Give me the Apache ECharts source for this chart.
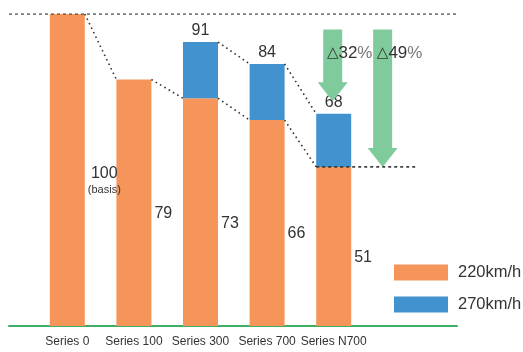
<!DOCTYPE html>
<html>
<head>
<meta charset="utf-8">
<script src="https://cdn.jsdelivr.net/npm/echarts@6/dist/echarts.min.js"></script>
<style>
  html, body { margin: 0; padding: 0; background: #fff; }
  #chart { width: 523px; height: 352px; }
</style>
</head>
<body>
<div id="chart"></div>
<script>
var categories = ['Series 0', 'Series 100', 'Series 300', 'Series 700', 'Series N700'];
var speed220 = [100, 79, 73, 66, 51];
var speed270 = [null, null, 91, 84, 68];
var legendNames = ['220km/h', '270km/h'];
// arrows: [category index, top value, tip value, reduction %]
var arrowCats = [4, 4];
var arrowTop = [95, 95];
var arrowTip = [72, 51];
var arrowPct = [32, 49];

var orange = '#F6955A';
var blue = '#4192CF';
var arrowGreen = '#80CB9B';
var axisGreen = '#3FAF63';
var font = "'Liberation Sans', Arial, Helvetica, sans-serif";
var barWidth = 35;
var arrowShift = [0, 0.75]; // fraction of a band, right of category centre

var chart = echarts.init(document.getElementById('chart'));

// part above the 220km/h bar
var extra270 = speed270.map(function (v, i) { return v == null ? '-' : v - speed220[i]; });

// dotted connectors between neighbouring bar tops
var connectors = [];
for (var i = 0; i < speed220.length - 1; i++) {
    connectors.push([i, speed220[i], speed220[i + 1]]);
}
for (var j = 0; j < speed270.length - 1; j++) {
    if (speed270[j] != null && speed270[j + 1] != null) {
        connectors.push([j, speed270[j], speed270[j + 1]]);
    }
}
var arrowData = arrowCats.map(function (c, k) {
    return [c, arrowTop[k], arrowTip[k], arrowPct[k], arrowShift[k]];
});
var last = speed220.length - 1;

var option = {
    backgroundColor: '#fff',
    animation: false,
    legend: {
        data: legendNames,
        orient: 'vertical',
        left: 394,
        top: 264,
        padding: 0,
        itemWidth: 54,
        itemHeight: 16,
        itemGap: 15,
        icon: 'rect',
        textStyle: { fontSize: 16.5, color: '#333', fontFamily: font, padding: [0, 0, 0, 5] }
    },
    grid: [
        { left: 34, right: 156, top: 14, bottom: 26 },
        { left: 9, right: 66, top: 14, bottom: 26 }
    ],
    xAxis: [
        {
            type: 'category',
            gridIndex: 0,
            data: categories,
            axisLine: { show: false },
            axisTick: { show: false },
            axisLabel: { interval: 0, margin: 10, fontSize: 12, color: '#333', fontFamily: font }
        },
        {
            type: 'value',
            gridIndex: 1,
            min: 0,
            max: 1,
            axisLine: { show: true, onZero: false, lineStyle: { color: axisGreen, width: 2 } },
            axisTick: { show: false },
            axisLabel: { show: false },
            splitLine: { show: false }
        }
    ],
    yAxis: [
        { type: 'value', gridIndex: 0, min: 0, max: 100, show: false },
        { type: 'value', gridIndex: 1, min: 0, max: 100, show: false }
    ],
    series: [
        {
            name: legendNames[0],
            type: 'bar',
            stack: 'total',
            barWidth: barWidth,
            itemStyle: { color: orange },
            data: speed220,
            label: {
                show: true,
                position: 'right',
                distance: 3,
                offset: [0, 11],
                formatter: function (p) {
                    if (p.dataIndex === 0) return '{v|' + p.value + '}\n{b|(basis)}';
                    return '{v|' + p.value + '}';
                },
                rich: {
                    v: { fontSize: 16, color: '#333', fontFamily: font, align: 'center', lineHeight: 18 },
                    b: { fontSize: 11, color: '#333', fontFamily: font, align: 'center', lineHeight: 14 }
                }
            }
        },
        {
            name: legendNames[1],
            type: 'bar',
            stack: 'total',
            barWidth: barWidth,
            itemStyle: { color: blue },
            data: extra270,
            label: {
                show: true,
                position: 'top',
                distance: 3,
                fontSize: 16,
                color: '#333',
                fontFamily: font,
                formatter: function (p) { return speed270[p.dataIndex]; }
            }
        },
        {
            type: 'custom',
            name: 'connectors',
            coordinateSystem: 'cartesian2d',
            encode: { x: 0, y: [1, 2] },
            data: connectors,
            z: 5,
            renderItem: function (params, api) {
                var idx = api.value(0);
                var half = barWidth / 2;
                var p1 = api.coord([idx, api.value(1)]);
                var p2 = api.coord([idx + 1, api.value(2)]);
                return {
                    type: 'line',
                    shape: { x1: p1[0] + half, y1: p1[1], x2: p2[0] - half, y2: p2[1] },
                    style: { stroke: '#333', lineWidth: 1.6, lineDash: [1.6, 3.4] }
                };
            }
        },
        {
            type: 'custom',
            name: 'guide',
            coordinateSystem: 'cartesian2d',
            encode: { x: 0, y: 1 },
            data: [[last, speed220[last]]],
            z: 5,
            renderItem: function (params, api) {
                var p = api.coord([api.value(0), api.value(1)]);
                var band = api.size([1, 0])[0];
                return {
                    type: 'line',
                    shape: { x1: p[0] - barWidth / 2, y1: p[1], x2: p[0] + band * 1.25, y2: p[1] },
                    style: { stroke: '#333', lineWidth: 1.6, lineDash: [3, 3] }
                };
            }
        },
        {
            type: 'custom',
            name: 'arrows',
            coordinateSystem: 'cartesian2d',
            encode: { x: 0, y: [1, 2] },
            data: arrowData,
            z: 4,
            renderItem: function (params, api) {
                var band = api.size([1, 0])[0];
                var top = api.coord([api.value(0), api.value(1)]);
                var tip = api.coord([api.value(0), api.value(2)]);
                var cx = top[0] + band * api.value(4) - 1;
                var shaft = 9.5, head = 15, headLen = 19;
                var pts = [
                    [cx - shaft, top[1]], [cx + shaft, top[1]],
                    [cx + shaft, tip[1] - headLen], [cx + head, tip[1] - headLen],
                    [cx, tip[1]],
                    [cx - head, tip[1] - headLen], [cx - shaft, tip[1] - headLen]
                ];
                return {
                    type: 'group',
                    children: [
                        { type: 'polygon', shape: { points: pts }, style: { fill: arrowGreen } },
                        {
                            type: 'text',
                            x: cx + 17,
                            y: top[1] + 24,
                            z2: 10,
                            style: {
                                text: '{t|△}{n|' + api.value(3) + '}{p|%}',
                                align: 'center',
                                verticalAlign: 'middle',
                                rich: {
                                    t: { fontSize: 15, fill: '#333', fontFamily: "'DejaVu Sans', sans-serif" },
                                    n: { fontSize: 17, fill: '#333', fontFamily: font },
                                    p: { fontSize: 17, fill: '#777', fontFamily: font }
                                }
                            }
                        }
                    ]
                };
            }
        },
        {
            type: 'line',
            name: 'baseline',
            xAxisIndex: 1,
            yAxisIndex: 1,
            symbol: 'none',
            silent: true,
            lineStyle: { color: '#555', width: 1.6, type: [3, 3] },
            data: [[0, speed220[0]], [1, speed220[0]]]
        }
    ]
};
chart.setOption(option);
</script>
</body>
</html>
